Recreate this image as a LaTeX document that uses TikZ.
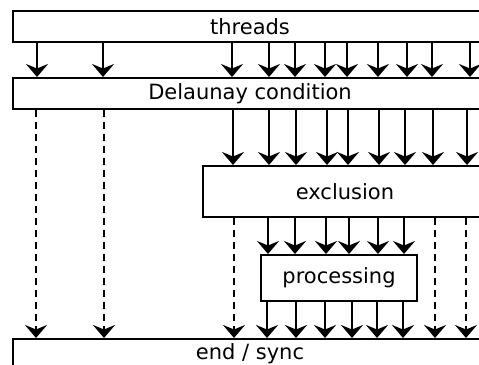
\documentclass[tikz,border=0pt]{standalone}
\usepackage{fontspec}
\setmainfont{DejaVu Sans}
\usetikzlibrary{arrows.meta}
\tikzset{
  box/.style={draw, line width=2pt, rectangle, inner sep=0pt, font=\fontsize{21}{25}\selectfont},
  flow/.style={line width=2pt, arrows={-Stealth[length=13pt,width=22pt,inset=4.5pt]}},
  skip/.style={flow, dash pattern=on 7pt off 5pt},
}
\begin{document}
\begin{tikzpicture}[x=1pt,y=-1pt]
  \useasboundingbox (0,0) rectangle (479,364);
  \clip (0,0) rectangle (479,364);
  \fill[white] (0,0) rectangle (479,364);
  % stages
  \node[box, minimum width=474pt, minimum height=31pt] (threads) at (250,26.5) {threads};
  \node[box, minimum width=474pt, minimum height=31pt] (delaunay) at (250,93.5) {Delaunay condition};
  \node[box, minimum width=284pt, minimum height=51pt] (exclusion) at (345,191.5) {exclusion};
  \node[box, minimum width=156pt, minimum height=46pt] (processing) at (339,278) {processing};
  \node[box, minimum width=474pt, minimum height=30pt] (endsync) at (250,354) {end / sync};
  % threads entering the Delaunay test
  \foreach \x in {37,103,232,269,295,325,347,378,407,432,470}
    \draw[flow] (threads.south -| \x,0) -- (delaunay.north -| \x,0);
  % threads passing the Delaunay test
  \foreach \x in {233,269,296,327,348,379,405,433,467}
    \draw[flow] (delaunay.south -| \x,0) -- (exclusion.north -| \x,0);
  \foreach \x in {36,104}
    \draw[skip] (delaunay.south -| \x,0) -- (endsync.north -| \x,0);
  % threads passing exclusion
  \foreach \x in {268,295,326,349,378,404}
    \draw[flow] (exclusion.south -| \x,0) -- (processing.north -| \x,0);
  \foreach \x in {234,435,466}
    \draw[skip] (exclusion.south -| \x,0) -- (endsync.north -| \x,0);
  % processed threads
  \foreach \x in {267,296,325,352,377,403}
    \draw[flow] (processing.south -| \x,0) -- (endsync.north -| \x,0);
\end{tikzpicture}
\end{document}
